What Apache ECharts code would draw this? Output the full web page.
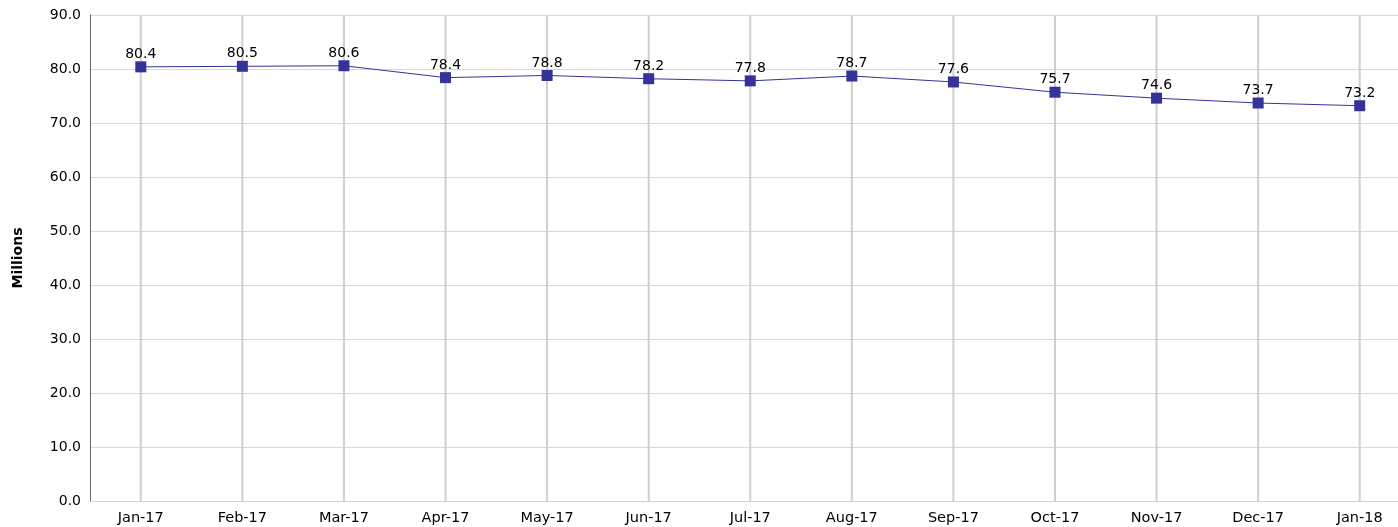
<!DOCTYPE html>
<html><head><meta charset="utf-8">
<script src="https://cdn.jsdelivr.net/npm/echarts@6/dist/echarts.min.js"></script>
<style>html,body{margin:0;padding:0;background:#fff}#c{width:1398px;height:527px}</style>
</head><body><div id="c"></div>
<script>
const categories = ['Jan-17','Feb-17','Mar-17','Apr-17','May-17','Jun-17','Jul-17','Aug-17','Sep-17','Oct-17','Nov-17','Dec-17','Jan-18'];
const values = [80.4, 80.5, 80.6, 78.4, 78.8, 78.2, 77.8, 78.7, 77.6, 75.7, 74.6, 73.7, 73.2];
const yTitle = 'Millions';
const FONT = '"DejaVu Sans", Verdana, sans-serif';
const chart = echarts.init(document.getElementById('c'), null, {renderer:'canvas'});
chart.setOption({
  animation: false,
  textStyle: {fontFamily: FONT},
  grid: {left: 90, top: 15, width: 1320.5, height: 486, containLabel: false, outerBoundsMode: 'none'},
  xAxis: {
    type: 'category', data: categories, boundaryGap: true,
    axisLine: {show: true, lineStyle: {color: '#d0d0d0', type: 'dotted', width: 1}},
    axisTick: {show: false},
    axisLabel: {color: '#000', fontSize: 14.5, fontFamily: FONT, margin: 10, interval: 0},
    splitLine: {show: false}
  },
  yAxis: {
    type: 'value', min: 0, max: 90, interval: 10,
    name: yTitle, nameLocation: 'middle', nameGap: 65, nameRotate: 90,
    nameTextStyle: {fontWeight: 'bold', fontSize: 14, color: '#000', fontFamily: FONT},
    axisLine: {show: true, lineStyle: {color: '#666', width: 1}},
    axisTick: {show: false},
    axisLabel: {color: '#000', fontSize: 14, fontFamily: FONT, margin: 9, formatter: v => v.toFixed(1)},
    splitLine: {show: true, lineStyle: {color: '#d9d9d9', width: 1}}
  },
  series: [
    {
      type: 'bar', data: values.map(() => 90), barWidth: 2, silent: true,
      itemStyle: {color: '#cfcfcf'}, z: 1
    },
    {
      type: 'line', data: values, symbol: 'rect', symbolSize: 11,
      itemStyle: {color: '#333399'}, lineStyle: {color: '#333399', width: 1},
      label: {show: true, position: 'top', distance: 0, color: '#000', fontSize: 14, fontFamily: FONT, formatter: p => p.value.toFixed(1)},
      z: 3
    }
  ]
});
</script></body></html>
